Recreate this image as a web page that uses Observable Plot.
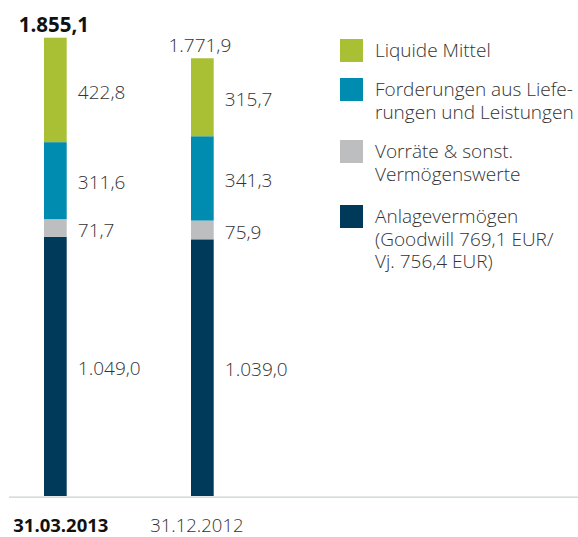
<!DOCTYPE html>
<html>
<head>
<meta charset="utf-8">
<script src="https://cdn.jsdelivr.net/npm/d3@7"></script>
<script src="https://cdn.jsdelivr.net/npm/@observablehq/plot@0.6"></script>
<style>
  html, body { margin: 0; padding: 0; background: #fff; }
  #wrap { position: relative; width: 578px; height: 537px; font-family: "Open Sans", sans-serif; overflow: hidden; }
  #wrap svg { display: block; }
  #legend { position: absolute; left: 340px; top: 0; width: 238px; height: 300px; }
  .sw { position: absolute; left: 0; width: 23px; height: 23px; }
  .lbl { position: absolute; left: 35px; font-size: 19px; line-height: 22.6px; color: #333; font-weight: 300; white-space: nowrap; }
</style>
</head>
<body>
<div id="wrap"><div id="legend"></div></div>
<script>
const dates = ["31.03.2013", "31.12.2012"];
const categories = ["Anlagevermögen", "Vorräte & sonst. Vermögenswerte", "Forderungen aus Lieferungen und Leistungen", "Liquide Mittel"];
const values2013 = [1049.0, 71.7, 311.6, 422.8];
const values2012 = [1039.0, 75.9, 341.3, 315.7];
const totals = [1855.1, 1771.9];
const colors = ["#003a5a", "#bdbec0", "#008bb0", "#a9c034"];
const legendLines = [
  ["Anlagevermögen", "(Goodwill 769,1 EUR/", "Vj. 756,4 EUR)"],
  ["Vorräte & sonst.", "Vermögenswerte"],
  ["Forderungen aus Liefe-", "rungen und Leistungen"],
  ["Liquide Mittel"]
];

const de = d3.formatLocale({decimal: ",", thousands: ".", grouping: [3], currency: ["", " €"]});
const fmt = de.format(",.1f");

const rows = [];
dates.forEach((date, i) => {
  const vals = i === 0 ? values2013 : values2012;
  categories.forEach((cat, j) => rows.push({date, cat, value: vals[j]}));
});
const totalRows = dates.map((date, i) => ({date, total: totals[i]}));

const plot = Plot.plot({
  width: 578,
  height: 537,
  marginLeft: 9,
  marginRight: 0,
  marginTop: 0,
  marginBottom: 0,
  style: {fontFamily: "'Open Sans', sans-serif", background: "transparent"},
  x: {domain: dates, range: [44, 213.7], paddingInner: 0.8456, paddingOuter: 0, round: false, axis: null},
  y: {domain: [0, 1855.1], range: [496, 37.7], axis: null},
  color: {domain: categories, range: colors},
  marks: [
    Plot.ruleY([0], {stroke: "#c9d1d1", strokeWidth: 1.3, dy: 0.7}),
    Plot.barY(rows, {x: "date", y: "value", fill: "cat", order: categories}),
    Plot.text(rows, Plot.stackY({x: "date", y: "value", z: "cat", order: categories,
      text: d => fmt(d.value), textAnchor: "start", dx: 22, dy: 2, fontSize: 19, fill: "#333", fontWeight: 300})),
    Plot.text(totalRows.filter((d, i) => i === 0), {x: "date", y: "total", text: d => fmt(d.total),
      dy: -12.5, dx: -2, fontSize: 20.5, fontWeight: 700, fill: "#111"}),
    Plot.text(totalRows.filter((d, i) => i > 0), {x: "date", y: "total", text: d => fmt(d.total),
      dy: -12.5, dx: -3, fontSize: 19, fontWeight: 300, fill: "#333"}),
    Plot.text(dates.filter((d, i) => i === 0), {x: d => d, y: () => 0, text: d => d,
      dy: 29.5, dx: 5, fontSize: 18.5, fontWeight: 700, fill: "#111"}),
    Plot.text(dates.filter((d, i) => i > 0), {x: d => d, y: () => 0, text: d => d,
      dy: 29.5, dx: -6, fontSize: 18.5, fontWeight: 300, fill: "#333"})
  ]
});
document.getElementById("wrap").prepend(plot);

// legend (top item first), colours from the plot's color scale
const legend = document.getElementById("legend");
const colorScale = plot.scale("color");
const order = [3, 2, 1, 0];
const swatchTops = [39, 78, 140, 205];
order.forEach((j, k) => {
  const sw = document.createElement("div");
  sw.className = "sw";
  sw.style.top = swatchTops[k] + "px";
  sw.style.background = colorScale.range[colorScale.domain.indexOf(categories[j])];
  legend.appendChild(sw);
  const lb = document.createElement("div");
  lb.className = "lbl";
  lb.style.top = (swatchTops[k]) + "px";
  lb.innerHTML = legendLines[j].map(s => s.replace(/&/g, "&amp;")).join("<br>");
  legend.appendChild(lb);
});
</script>
</body>
</html>
